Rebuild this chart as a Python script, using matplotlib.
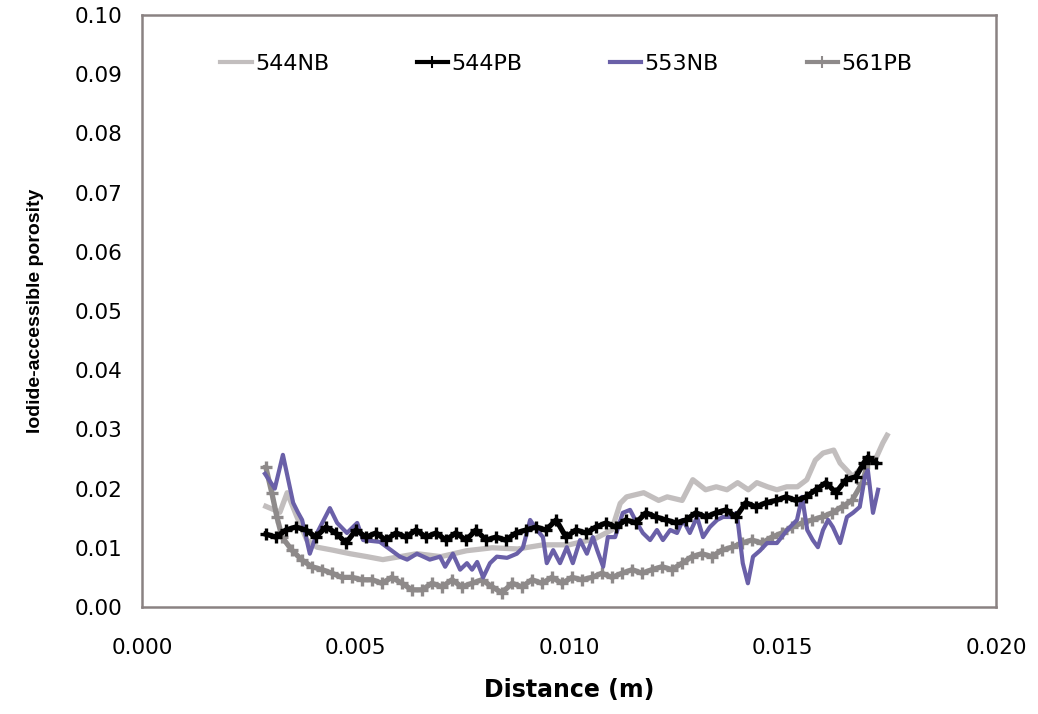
import matplotlib
matplotlib.use("Agg")
import matplotlib.pyplot as plt
from matplotlib import font_manager

plt.rcParams['font.family'] = ['DejaVu Sans']

# 544NB (light grey, no markers)
x_544nb = [0.00290, 0.00323, 0.00340, 0.00363, 0.00386, 0.00410, 0.00447, 0.00487,
           0.00527, 0.00564, 0.00604, 0.00644, 0.00700, 0.00760, 0.00820, 0.00880,
           0.00940, 0.01000, 0.01060, 0.01100, 0.01120, 0.01135, 0.01175, 0.01210,
           0.01230, 0.01265, 0.01290, 0.01320, 0.01345, 0.01370, 0.01395, 0.01420,
           0.01440, 0.01465, 0.01487, 0.01510, 0.01535, 0.01557, 0.01577, 0.01595,
           0.01620, 0.01635, 0.01665, 0.01695, 0.01720, 0.01735, 0.01745]
y_544nb = [0.0170, 0.0160, 0.0193, 0.0152, 0.0113, 0.0101, 0.0096, 0.0090,
           0.0085, 0.0080, 0.0085, 0.0090, 0.0085, 0.0095, 0.0100, 0.0098,
           0.0105, 0.0105, 0.0115, 0.0130, 0.0175, 0.0186, 0.0193, 0.0180,
           0.0186, 0.0180, 0.0215, 0.0198, 0.0203, 0.0198, 0.0210, 0.0198,
           0.0210, 0.0203, 0.0198, 0.0203, 0.0203, 0.0215, 0.0248, 0.0260,
           0.0265, 0.0243, 0.0220, 0.0243, 0.0253, 0.0277, 0.0290]

# 544PB (black, plus markers)
x_544pb = [0.00290, 0.00314, 0.00337, 0.00360, 0.00384, 0.00407, 0.00431, 0.00454,
           0.00478, 0.00501, 0.00525, 0.00548, 0.00571, 0.00595, 0.00618, 0.00642,
           0.00665, 0.00689, 0.00712, 0.00735, 0.00759, 0.00782, 0.00806, 0.00829,
           0.00852, 0.00876, 0.00899, 0.00923, 0.00946, 0.00970, 0.00993, 0.01016,
           0.01040, 0.01063, 0.01087, 0.01110, 0.01133, 0.01157, 0.01180, 0.01204,
           0.01227, 0.01251, 0.01274, 0.01297, 0.01321, 0.01344, 0.01368, 0.01391,
           0.01414, 0.01438, 0.01461, 0.01485, 0.01508, 0.01532, 0.01555, 0.01578,
           0.01602, 0.01625, 0.01649, 0.01672, 0.01690, 0.01700, 0.01720]
y_544pb = [0.0123, 0.0118, 0.0130, 0.0135, 0.0130, 0.0118, 0.0135, 0.0125,
           0.0108, 0.0130, 0.0118, 0.0125, 0.0113, 0.0125, 0.0118, 0.0130,
           0.0118, 0.0125, 0.0113, 0.0125, 0.0113, 0.0130, 0.0113, 0.0118,
           0.0113, 0.0125, 0.0130, 0.0135, 0.0130, 0.0147, 0.0118, 0.0130,
           0.0125, 0.0135, 0.0142, 0.0135, 0.0147, 0.0142, 0.0159, 0.0152,
           0.0147, 0.0142, 0.0147, 0.0159, 0.0152, 0.0159, 0.0164, 0.0152,
           0.0176, 0.0169, 0.0176, 0.0180, 0.0186, 0.0180, 0.0186, 0.0198,
           0.0210, 0.0193, 0.0215, 0.0220, 0.0243, 0.0253, 0.0243]

# 553NB (purple, no markers)
x_553nb = [0.00288, 0.00311, 0.00330, 0.00354, 0.00365, 0.00375, 0.00393, 0.00410,
           0.00440, 0.00457, 0.00480, 0.00504, 0.00518, 0.00557, 0.00604, 0.00621,
           0.00644, 0.00674, 0.00698, 0.00710, 0.00728, 0.00745, 0.00761, 0.00773,
           0.00785, 0.00799, 0.00815, 0.00831, 0.00855, 0.00878, 0.00892, 0.00909,
           0.00925, 0.00939, 0.00948, 0.00963, 0.00979, 0.00995, 0.01009, 0.01026,
           0.01042, 0.01056, 0.01066, 0.01080, 0.01091, 0.01108, 0.01126, 0.01143,
           0.01159, 0.01173, 0.01190, 0.01206, 0.01220, 0.01237, 0.01253, 0.01267,
           0.01283, 0.01300, 0.01314, 0.01330, 0.01347, 0.01361, 0.01377, 0.01393,
           0.01407, 0.01419, 0.01431, 0.01447, 0.01464, 0.01487, 0.01511, 0.01534,
           0.01546, 0.01558, 0.01571, 0.01583, 0.01595, 0.01607, 0.01618, 0.01635,
           0.01651, 0.01665, 0.01681, 0.01693, 0.01700, 0.01712, 0.01724]
y_553nb = [0.0225, 0.0200, 0.0257, 0.0176, 0.0160, 0.0147, 0.0090, 0.0125,
           0.0167, 0.0142, 0.0125, 0.0142, 0.0113, 0.0110, 0.0085, 0.0080,
           0.0090, 0.0080, 0.0085, 0.0068, 0.0090, 0.0063, 0.0074, 0.0063,
           0.0076, 0.0050, 0.0074, 0.0085, 0.0083, 0.0090, 0.0100, 0.0147,
           0.0130, 0.0118, 0.0074, 0.0096, 0.0074, 0.0101, 0.0074, 0.0113,
           0.0090, 0.0118, 0.0096, 0.0068, 0.0118, 0.0118, 0.0159, 0.0164,
           0.0142, 0.0125, 0.0113, 0.0130, 0.0113, 0.0130, 0.0125, 0.0147,
           0.0125, 0.0152, 0.0118, 0.0135, 0.0147, 0.0152, 0.0152, 0.0159,
           0.0074, 0.0040, 0.0085, 0.0095, 0.0108, 0.0108, 0.0130, 0.0147,
           0.0186, 0.0130, 0.0113, 0.0101, 0.0130, 0.0147, 0.0135, 0.0108,
           0.0152, 0.0159, 0.0169, 0.0220, 0.0231, 0.0159, 0.0198]

# 561PB (dark grey, plus markers)
x_561pb = [0.00290, 0.00304, 0.00316, 0.00328, 0.00351, 0.00375, 0.00398, 0.00422,
           0.00445, 0.00468, 0.00492, 0.00515, 0.00539, 0.00562, 0.00585, 0.00609,
           0.00632, 0.00656, 0.00679, 0.00703, 0.00726, 0.00749, 0.00773, 0.00796,
           0.00820, 0.00843, 0.00867, 0.00890, 0.00913, 0.00937, 0.00960, 0.00984,
           0.01007, 0.01030, 0.01054, 0.01077, 0.01101, 0.01124, 0.01148, 0.01171,
           0.01194, 0.01218, 0.01241, 0.01265, 0.01288, 0.01311, 0.01335, 0.01358,
           0.01382, 0.01405, 0.01428, 0.01452, 0.01475, 0.01499, 0.01522, 0.01546,
           0.01569, 0.01592, 0.01616, 0.01639, 0.01663, 0.01687, 0.01700]
y_561pb = [0.0236, 0.0193, 0.0152, 0.0118, 0.0096, 0.0079, 0.0068, 0.0063,
           0.0057, 0.0050, 0.0050, 0.0046, 0.0046, 0.0040, 0.0050, 0.0040,
           0.0029, 0.0029, 0.0040, 0.0034, 0.0046, 0.0034, 0.0040, 0.0046,
           0.0034, 0.0024, 0.0040, 0.0034, 0.0046, 0.0040, 0.0050, 0.0040,
           0.0050, 0.0046, 0.0050, 0.0057, 0.0050, 0.0057, 0.0063, 0.0057,
           0.0063, 0.0068, 0.0063, 0.0074, 0.0085, 0.0090, 0.0085, 0.0096,
           0.0101, 0.0108, 0.0113, 0.0108, 0.0118, 0.0125, 0.0135, 0.0142,
           0.0147, 0.0152, 0.0159, 0.0169, 0.0180, 0.0210, 0.0243]

labels = ['544NB', '544PB', '553NB', '561PB']
x_ticks = [0.000, 0.005, 0.010, 0.015, 0.020]
y_ticks = [0.00, 0.01, 0.02, 0.03, 0.04, 0.05, 0.06, 0.07, 0.08, 0.09, 0.10]

fig = plt.figure(figsize=(10.38, 7.14), dpi=100)
ax = fig.add_axes([0.1368, 0.1499, 0.8227, 0.8291])

l1, = ax.plot(x_544nb, y_544nb, color='#c2bebe', lw=3.8, zorder=2)
l4, = ax.plot(x_561pb, y_561pb, color='#8e8a8a', lw=3.8, marker='+', ms=9, mew=2.4, zorder=3)
l3, = ax.plot(x_553nb, y_553nb, color='#6a60a8', lw=3, zorder=4)
l2, = ax.plot(x_544pb, y_544pb, color='black', lw=3.8, marker='+', ms=9, mew=2.4, zorder=5)

ax.set_xlim(0, 0.020)
ax.set_ylim(0, 0.10)
ax.set_xticks(x_ticks)
ax.set_xticklabels([f'{v:.3f}' for v in x_ticks])
ax.set_yticks(y_ticks)
ax.set_yticklabels([f'{v:.2f}' for v in y_ticks])
ax.tick_params(axis='both', length=0, labelsize=15.5)
ax.tick_params(axis='x', pad=22)
ax.tick_params(axis='y', pad=14)
for s in ax.spines.values():
    s.set_color('#8a8282')
    s.set_linewidth(1.8)

ax.set_xlabel('Distance (m)', fontsize=17, fontweight='bold', labelpad=15)

names = {f.name for f in font_manager.fontManager.ttflist}
if 'Liberation Sans Narrow' in names:
    ax.set_ylabel('Iodide-accessible porosity', family='Liberation Sans Narrow',
                  fontsize=16.5, fontweight='bold', labelpad=16)
else:
    ax.set_ylabel('Iodide-accessible porosity', family='Liberation Sans',
                  fontsize=14, fontweight='bold', labelpad=22)

leg = ax.legend([l1, l2, l3, l4], labels, ncol=4, frameon=False,
                loc='center', bbox_to_anchor=(0.497, 0.917), fontsize=16,
                handlelength=1.4, handletextpad=0.15, columnspacing=3.95)
for h in leg.legend_handles:
    h.set_linewidth(3)
    h.set_markersize(9)
    h.set_markeredgewidth(1.5)

fig.savefig('out.png', dpi=100)
